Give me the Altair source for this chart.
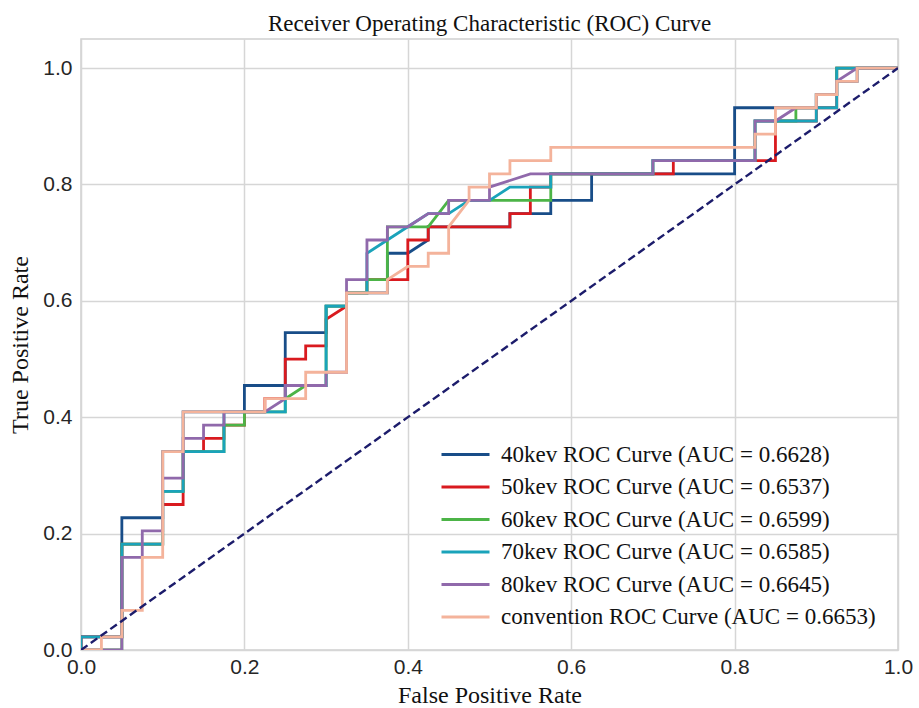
import altair as alt
import pandas as pd

# FPR steps are in units of 1/40 (40 negatives),
# TPR steps in units of 1/44 (44 positives).
N_NEG = 40
N_POS = 44

labels = [
    "40kev ROC Curve (AUC = 0.6628)",
    "50kev ROC Curve (AUC = 0.6537)",
    "60kev ROC Curve (AUC = 0.6599)",
    "70kev ROC Curve (AUC = 0.6585)",
    "80kev ROC Curve (AUC = 0.6645)",
    "convention ROC Curve (AUC = 0.6653)",
]
colors = ["#184d88", "#d91a1f", "#4cb447", "#1aa3ba", "#9069ab", "#f4b39b"]

fp_40 = [0, 0, 2, 2, 4, 4, 5, 5, 8, 8, 10, 10, 12, 12, 13, 13, 15, 15, 16, 17, 17, 21, 21, 23, 23, 25, 25, 32, 32, 34, 36, 36, 37, 37, 38, 38, 40]
tp_40 = [0, 1, 1, 10, 10, 15, 15, 18, 18, 20, 20, 24, 24, 26, 26, 27, 27, 30, 30, 31, 32, 32, 33, 33, 34, 34, 36, 36, 41, 41, 41, 42, 42, 43, 43, 44, 44]

fp_50 = [0, 0, 2, 2, 4, 4, 5, 5, 6, 6, 7, 7, 8, 8, 9, 9, 10, 10, 11, 11, 12, 12, 13, 13, 14, 14, 16, 16, 17, 17, 21, 21, 22, 22, 23, 23, 29, 29, 34, 34, 36, 36, 37, 37, 40]
tp_50 = [0, 1, 1, 8, 8, 11, 11, 15, 15, 16, 16, 17, 17, 18, 18, 19, 19, 22, 22, 23, 23, 25, 26, 27, 27, 28, 28, 31, 31, 32, 32, 33, 33, 35, 35, 36, 36, 37, 37, 40, 40, 41, 41, 44, 44]

fp_60 = [0, 2, 2, 4, 4, 5, 5, 7, 7, 8, 8, 10, 10, 11, 12, 12, 13, 13, 14, 14, 15, 15, 17, 18, 23, 23, 28, 28, 33, 33, 35, 35, 36, 36, 37, 37, 40]
tp_60 = [0, 0, 8, 8, 12, 12, 15, 15, 17, 17, 18, 18, 19, 20, 20, 26, 26, 27, 27, 28, 28, 32, 32, 34, 34, 36, 36, 37, 37, 40, 40, 41, 41, 42, 42, 44, 44]

fp_70 = [0, 0, 2, 2, 4, 4, 5, 5, 7, 7, 10, 10, 12, 12, 13, 13, 14, 14, 15, 16, 17, 18, 19, 20, 21, 23, 23, 28, 28, 33, 33, 36, 36, 37, 37, 40]
tp_70 = [0, 1, 1, 8, 8, 12, 12, 15, 15, 18, 18, 20, 20, 26, 26, 27, 27, 30, 31, 32, 33, 33, 34, 34, 35, 35, 36, 36, 37, 37, 40, 40, 41, 41, 44, 44]

fp_80 = [0, 2, 2, 3, 3, 4, 4, 5, 5, 6, 6, 7, 7, 9, 10, 10, 12, 12, 13, 13, 14, 14, 15, 15, 16, 17, 18, 18, 20, 20, 22, 28, 28, 33, 33, 34, 35, 36, 36, 37, 37, 38, 40]
tp_80 = [0, 0, 7, 7, 9, 9, 13, 13, 16, 16, 17, 17, 18, 18, 19, 20, 20, 21, 21, 28, 28, 31, 31, 32, 32, 33, 33, 34, 34, 35, 36, 36, 37, 37, 40, 40, 41, 41, 42, 42, 43, 44, 44]

fp_conv = [0, 1, 1, 2, 2, 3, 3, 4, 4, 5, 5, 9, 9, 11, 11, 13, 13, 15, 15, 16, 17, 17, 18, 18, 19, 19, 20, 20, 21, 21, 23, 23, 33, 33, 34, 34, 36, 36, 37, 37, 38, 38, 40]
tp_conv = [0, 0, 1, 1, 3, 3, 7, 7, 15, 15, 18, 18, 19, 19, 21, 21, 27, 27, 28, 29, 29, 30, 30, 32, 34, 35, 35, 36, 36, 37, 37, 38, 38, 39, 39, 41, 41, 42, 42, 43, 43, 44, 44]

fp_lists = [fp_40, fp_50, fp_60, fp_70, fp_80, fp_conv]
tp_lists = [tp_40, tp_50, tp_60, tp_70, tp_80, tp_conv]

diag_x = [0.0, 1.0]
diag_y = [0.0, 1.0]

rows = []
for lab, fps, tps in zip(labels, fp_lists, tp_lists):
    for i, (f, t) in enumerate(zip(fps, tps)):
        rows.append({"series": lab, "idx": i, "fpr": f / N_NEG, "tpr": t / N_POS})
df = pd.DataFrame(rows)
diag = pd.DataFrame({"fpr": diag_x, "tpr": diag_y})

ticks = [0.0, 0.2, 0.4, 0.6, 0.8, 1.0]

xscale = alt.Scale(domain=[0, 1], nice=False, zero=False)
yscale = alt.Scale(domain=[0, 1.05], nice=False, zero=False)

xaxis = alt.Axis(values=ticks, format=".1f", title="False Positive Rate", labelFlush=False)
yaxis = alt.Axis(values=ticks, format=".1f", title="True Positive Rate", labelFlush=False)

curves = alt.Chart(df).mark_line(strokeWidth=2.8, clip=True).encode(
    x=alt.X("fpr:Q", scale=xscale, axis=xaxis),
    y=alt.Y("tpr:Q", scale=yscale, axis=yaxis),
    order=alt.Order("idx:Q"),
    color=alt.Color(
        "series:N",
        scale=alt.Scale(domain=labels, range=colors),
        legend=alt.Legend(
            orient="none",
            legendX=371,
            legendY=402,
            title=None,
            symbolType="M-2,0H2",
            symbolSize=576,
            symbolStrokeWidth=3,
            labelFont="Liberation Serif",
            labelFontSize=23,
            labelOffset=22,
            labelColor="#111111",
            labelLimit=0,
            rowPadding=6.5,
            padding=0,
        ),
    ),
)

diagonal = alt.Chart(diag).mark_line(
    strokeDash=[8, 4], strokeWidth=2.4, color="#1c1c6b", clip=True
).encode(
    x=alt.X("fpr:Q", scale=xscale, axis=xaxis),
    y=alt.Y("tpr:Q", scale=yscale, axis=yaxis),
)

chart = (
    alt.layer(curves, diagonal)
    .properties(
        width=817,
        height=611,
        autosize=alt.AutoSizeParams(type="none"),
        padding={"left": 81, "top": 39, "right": 18, "bottom": 56},
        title=alt.TitleParams(
            text="Receiver Operating Characteristic (ROC) Curve",
            font="Liberation Serif",
            fontSize=23,
            fontWeight="normal",
            color="#111111",
            anchor="middle",
            offset=3,
        ),
    )
    .configure_view(stroke="#cfcfcf", strokeWidth=1.5)
    .configure_axis(
        domain=False,
        ticks=False,
        grid=True,
        gridColor="#d6d6d6",
        gridWidth=1.5,
        labelFont="Liberation Sans",
        labelFontSize=21,
        labelColor="#262626",
        titleFont="Liberation Serif",
        titleFontSize=24,
        titleFontWeight="normal",
        titleColor="#111111",
    )
    .configure_axisX(labelPadding=6, titlePadding=6)
    .configure_axisY(labelPadding=9, titlePadding=10)
)

chart.save("out.html", embed_options={"renderer": "svg", "actions": False})
